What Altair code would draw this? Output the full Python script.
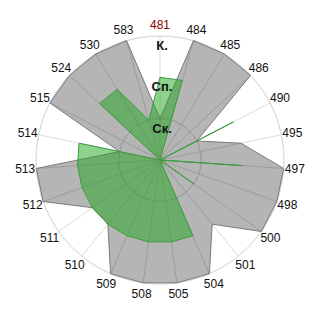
import math
import altair as alt
import pandas as pd

categories = ['481', '484', '485', '486', '490', '495', '497', '498', '500', '501', '504',
              '505', '508', '509', '510', '511', '512', '513', '514', '515', '524', '530', '583']
gray_vals = [1, 3, 3, 3, 1, 2, 3, 3, 3, 2, 3, 3, 3, 3, 2, 2, 3, 3, 1, 3, 3, 3, 3]
green_vals = [2, 2, 0, 0, 2, 0, 2, 0, 1, 0, 2, 2, 2, 2, 2, 2, 2, 2, 2, 0, 2, 2, 1]
level_vals = [1, 2, 3]
level_names = ['Ск.', 'Сп.', 'К.']

N = len(categories)
FONT = 'Liberation Sans, Arial, sans-serif'
LABEL_R = 3.27

df = pd.DataFrame({
    'idx': list(range(N)),
    'cat': categories,
    'gray': gray_vals,
    'green': green_vals,
    'top': [3] * N,
    'red': [c == '481' for c in categories],
})
levels = pd.DataFrame({'lv': level_vals, 'name': level_names})

xs = alt.Scale(domain=[-3, 3], nice=False, zero=False)
ys = alt.Scale(domain=[-3, 3], nice=False, zero=False)

base = alt.Chart(df).transform_calculate(
    ang=f'datum.idx * 2 * PI / {N}'
).transform_calculate(
    sx='sin(datum.ang)', cy='cos(datum.ang)'
).transform_calculate(
    gx='datum.gray * datum.sx', gy='datum.gray * datum.cy',
    nx='datum.green * datum.sx', ny='datum.green * datum.cy',
    tx='datum.top * datum.sx', ty='datum.top * datum.cy',
    lx=f'{LABEL_R} * datum.sx', ly=f'{LABEL_R} * datum.cy',
    zero='0'
)

circles = alt.Chart(levels).mark_arc(
    filled=False, color='#dcdcdc', strokeWidth=1, theta=0, theta2=2 * math.pi
).encode(
    radius=alt.Radius('lv:Q', scale=alt.Scale(type='linear', domain=[0, 3], range=[0, 124], zero=True))
)

spokes = base.mark_rule(color='#dcdcdc', strokeWidth=1).encode(
    x=alt.X('zero:Q', scale=xs, axis=None),
    y=alt.Y('zero:Q', scale=ys, axis=None),
    x2='tx:Q', y2='ty:Q'
)

gray_area = base.mark_line(
    interpolate='linear-closed', fill='#000000', fillOpacity=0.29,
    stroke='#7a7a7a', strokeWidth=1
).encode(
    x=alt.X('gx:Q', scale=xs, axis=None),
    y=alt.Y('gy:Q', scale=ys, axis=None),
    order='idx:Q'
)

green_area = base.mark_line(
    interpolate='linear-closed', fill='#1ea51e', fillOpacity=0.5,
    stroke='#3a9e3a', strokeWidth=1
).encode(
    x=alt.X('nx:Q', scale=xs, axis=None),
    y=alt.Y('ny:Q', scale=ys, axis=None),
    order='idx:Q'
)

lvl_labels = alt.Chart(levels).mark_text(
    font=FONT, fontSize=13, fontWeight='bold', color='#111111',
    align='center', baseline='middle', dx=2, dy=10
).encode(
    x=alt.X('zero:Q', scale=xs, axis=None),
    y=alt.Y('lv:Q', scale=ys, axis=None),
    text='name:N'
).transform_calculate(zero='0')

cat_labels = base.mark_text(
    font=FONT, fontSize=12, align='center', baseline='middle'
).encode(
    x=alt.X('lx:Q', scale=xs, axis=None),
    y=alt.Y('ly:Q', scale=ys, axis=None),
    text='cat:N',
    color=alt.condition('datum.red', alt.value('#8b0000'), alt.value('#111111'))
)

chart = alt.layer(circles, spokes, gray_area, green_area, lvl_labels, cat_labels).properties(
    width=248, height=248,
    autosize=alt.AutoSizeParams(type='none'),
    padding={'left': 36, 'top': 36, 'right': 36, 'bottom': 36},
    background='white'
).configure_view(stroke=None)

chart.save('out.html', embed_options={'renderer': 'svg', 'actions': False})
